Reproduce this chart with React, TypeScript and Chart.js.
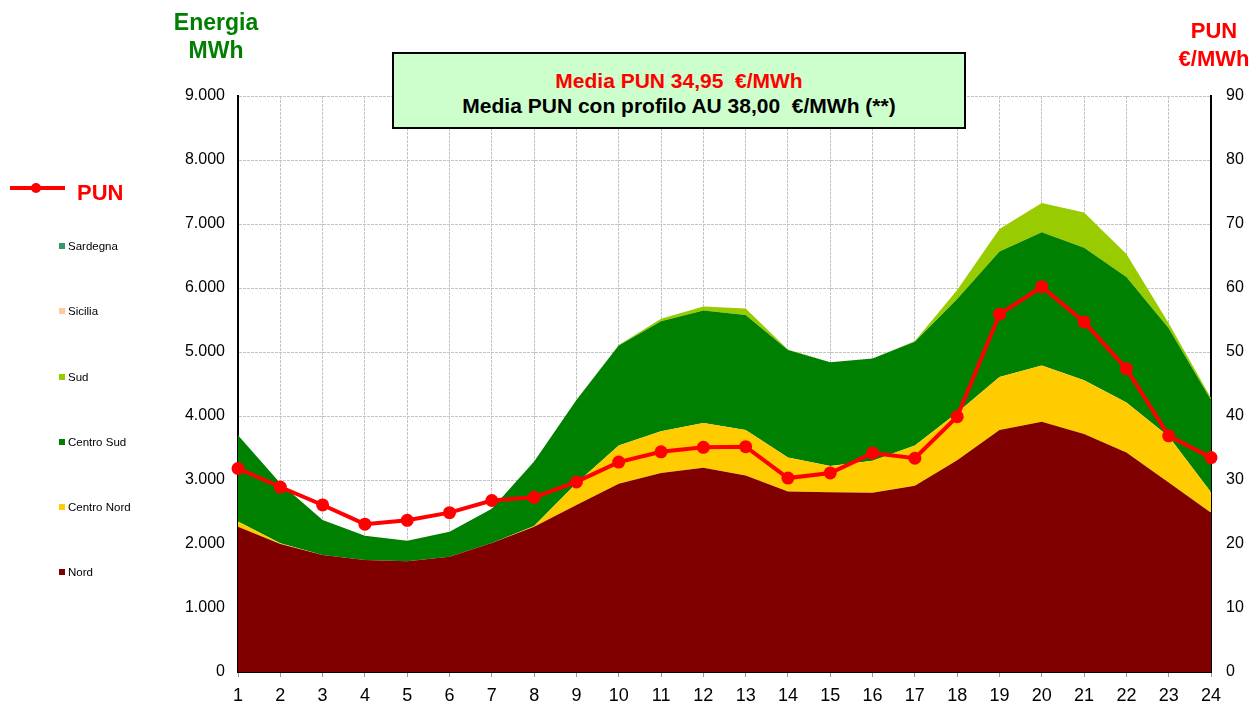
import React, { useEffect, useRef } from 'react';
import { Chart, registerables } from 'chart.js';

Chart.register(...registerables);

const hours = ['1', '2', '3', '4', '5', '6', '7', '8', '9', '10', '11', '12', '13', '14', '15', '16', '17', '18', '19', '20', '21', '22', '23', '24'];

// MWh per zone (stacked)
const nord = [2270, 2000, 1830, 1750, 1730, 1800, 2015, 2270, 2610, 2940, 3110, 3190, 3070, 2820, 2810, 2800, 2910, 3310, 3780, 3910, 3720, 3430, 2960, 2490];
const centroNord = [80, 10, 0, 0, 0, 0, 0, 10, 340, 600, 650, 700, 710, 530, 410, 500, 630, 740, 830, 880, 840, 780, 720, 320];
const centroSud = [1350, 940, 545, 380, 320, 390, 535, 1010, 1300, 1560, 1720, 1760, 1800, 1680, 1620, 1600, 1620, 1780, 1960, 2080, 2070, 1960, 1690, 1440];
const sud = [0, 0, 0, 0, 0, 0, 0, 0, 5, 10, 40, 60, 100, 10, 0, 0, 10, 140, 350, 460, 550, 360, 80, 30];
const sicilia = [0, 0, 0, 0, 0, 0, 0, 0, 0, 0, 0, 0, 0, 0, 0, 0, 0, 0, 0, 0, 0, 0, 0, 0];
const sardegna = [0, 0, 0, 0, 0, 0, 0, 0, 0, 0, 0, 0, 0, 0, 0, 0, 0, 0, 0, 0, 0, 0, 0, 0];

// PUN €/MWh
const pun = [31.8, 28.9, 26.1, 23.1, 23.7, 24.9, 26.8, 27.3, 29.7, 32.8, 34.4, 35.1, 35.2, 30.3, 31.1, 34.2, 33.4, 39.9, 55.9, 60.2, 54.7, 47.4, 36.9, 33.5];

const zoneLegend = [
  { label: 'Sardegna', color: '#339966', y: 246 },
  { label: 'Sicilia', color: '#FFCC99', y: 311 },
  { label: 'Sud', color: '#99CC00', y: 377 },
  { label: 'Centro Sud', color: '#008000', y: 442 },
  { label: 'Centro Nord', color: '#FFCC00', y: 507 },
  { label: 'Nord', color: '#800000', y: 572 },
];

const FONT = '"Liberation Sans", Arial, sans-serif';

function fmtThousands(v: number): string {
  return String(Math.round(v)).replace(/\B(?=(\d{3})+(?!\d))/g, '.');
}

export default function App() {
  const canvasRef = useRef<HTMLCanvasElement | null>(null);

  useEffect(() => {
    const canvas = canvasRef.current;
    if (!canvas) return;
    const area = (label: string, data: number[], color: string, fill: any) => ({
      type: 'line' as const,
      label,
      data,
      backgroundColor: color,
      borderColor: 'rgba(0,0,0,0)',
      borderWidth: 0,
      pointRadius: 0,
      pointHoverRadius: 0,
      fill,
      tension: 0,
      yAxisID: 'y',
      order: 1,
    });
    const gridCommon = {
      color: '#c4c4c4',
      lineWidth: 1,
    };
    const chart = new Chart(canvas, {
      type: 'line',
      data: {
        labels: hours,
        datasets: [
          area('Nord', nord, '#800000', 'origin'),
          area('Centro Nord', centroNord, '#FFCC00', '-1'),
          area('Centro Sud', centroSud, '#008000', '-1'),
          area('Sud', sud, '#99CC00', '-1'),
          area('Sicilia', sicilia, '#FFCC99', '-1'),
          area('Sardegna', sardegna, '#339966', '-1'),
          {
            type: 'line',
            label: 'PUN',
            data: pun,
            borderColor: '#FF0000',
            backgroundColor: '#FF0000',
            borderWidth: 4,
            pointRadius: 6.5,
            pointBorderWidth: 0,
            pointBackgroundColor: '#FF0000',
            fill: false,
            tension: 0,
            yAxisID: 'y1',
            order: -1,
            clip: false,
          } as any,
        ],
      },
      options: {
        responsive: false,
        animation: false,
        devicePixelRatio: 1,
        layout: { padding: { top: 96, left: 0, right: 0, bottom: 0 } },
        plugins: {
          legend: { display: false },
          tooltip: { enabled: false },
          title: { display: false },
        },
        scales: {
          x: {
            type: 'category',
            offset: false,
            grid: {
              ...gridCommon,
              drawTicks: true,
              tickLength: 5,
              tickColor: '#999',
              tickWidth: 1,
            },
            border: { display: true, color: '#000', width: 2, dash: [3, 1] },
            ticks: {
              color: '#000',
              font: { family: FONT, size: 18 },
              padding: 8,
              maxRotation: 0,
              autoSkip: false,
            },
            afterFit: (scale: any) => {
              scale.height = 32;
            },
          },
          y: {
            type: 'linear',
            position: 'left',
            stacked: true,
            min: 0,
            max: 9000,
            grid: { ...gridCommon, drawTicks: false },
            border: { display: true, color: '#000', width: 2, dash: [3, 1] },
            ticks: {
              stepSize: 1000,
              color: '#000',
              font: { family: FONT, size: 16 },
              padding: 13,
              callback: (v: any) => fmtThousands(Number(v)),
            },
            afterFit: (scale: any) => {
              scale.width = 238;
            },
          },
          y1: {
            type: 'linear',
            position: 'right',
            stacked: false,
            min: 0,
            max: 90,
            grid: { drawOnChartArea: false, drawTicks: false },
            border: { display: true, color: '#000', width: 2 },
            ticks: {
              stepSize: 10,
              color: '#000',
              font: { family: FONT, size: 16 },
              padding: 15,
            },
            afterFit: (scale: any) => {
              scale.width = 42;
            },
          },
        },
      } as any,
    });
    return () => chart.destroy();
  }, []);

  const abs = (s: React.CSSProperties): React.CSSProperties => ({ position: 'absolute', ...s });

  return (
    <div style={{ position: 'absolute', left: 0, top: 0, width: 1253, height: 704, background: '#fff', fontFamily: FONT, overflow: 'hidden' }}>
      <canvas ref={canvasRef} width={1253} height={704} style={{ position: 'absolute', left: 0, top: 0, width: 1253, height: 704, display: 'block' }} />

      <div style={abs({ left: 116, width: 200, top: 8, textAlign: 'center', color: '#008000', fontWeight: 'bold', fontSize: 23, lineHeight: '28px' })}>
        Energia<br />MWh
      </div>

      <div style={abs({ left: 1114, width: 200, top: 17, textAlign: 'center', color: '#FF0000', fontWeight: 'bold', fontSize: 22, lineHeight: '28px' })}>
        PUN<br />€/MWh
      </div>

      <div style={abs({ left: 392, top: 52, width: 570, height: 73, background: '#CCFFCC', border: '2px solid #000', textAlign: 'center', fontWeight: 'bold', fontSize: 21, lineHeight: '25px', boxSizing: 'content-box' })}>
        <div style={{ color: '#FF0000', marginTop: 14 }}>Media PUN 34,95&nbsp; €/MWh</div>
        <div style={{ color: '#000' }}>Media PUN con profilo AU 38,00&nbsp; €/MWh (**)</div>
      </div>

      {/* PUN legend */}
      <div style={abs({ left: 10, top: 186, width: 55, height: 4, background: '#FF0000' })} />
      <div style={abs({ left: 31, top: 183, width: 10, height: 10, borderRadius: 5, background: '#FF0000' })} />
      <div style={abs({ left: 77, top: 179, color: '#FF0000', fontWeight: 'bold', fontSize: 22, lineHeight: '28px' })}>PUN</div>

      {zoneLegend.map((z) => (
        <React.Fragment key={z.label}>
          <div style={abs({ left: 59, top: z.y - 3, width: 6, height: 6, background: z.color })} />
          <div style={abs({ left: 68, top: z.y - 8, fontSize: 11.5, lineHeight: '16px', color: '#000' })}>{z.label}</div>
        </React.Fragment>
      ))}
    </div>
  );
}
